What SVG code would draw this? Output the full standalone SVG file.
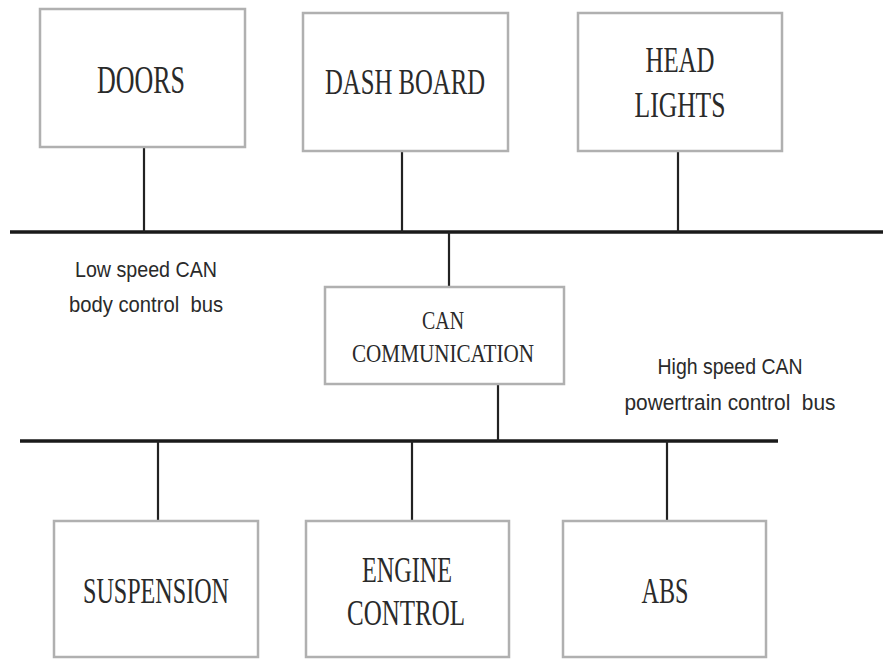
<svg xmlns="http://www.w3.org/2000/svg" width="883" height="659" viewBox="0 0 883 659">
<style>
.box{fill:#fff;stroke:#b0b0b0;stroke-width:2.5}
.t{font-family:"Liberation Serif","Times New Roman",serif;fill:#2a2a2a;text-anchor:middle}
.s{font-family:"Liberation Sans",Arial,sans-serif;fill:#2a2a2a;text-anchor:middle;font-size:22px;white-space:pre}
.bus{stroke:#1a1a1a;stroke-width:3.5;fill:none}
.drop{stroke:#222;stroke-width:2.2;fill:none}
</style>
<rect width="883" height="659" fill="#fff"/>
<g id="connectors">
<line class="bus" x1="10" y1="232" x2="883" y2="232"/>
<line class="bus" x1="20" y1="441" x2="778" y2="441"/>
<line class="drop" x1="144" y1="147" x2="144" y2="232"/>
<line class="drop" x1="402" y1="151" x2="402" y2="232"/>
<line class="drop" x1="678" y1="151" x2="678" y2="232"/>
<line class="drop" x1="449" y1="232" x2="449" y2="287"/>
<line class="drop" x1="498" y1="384" x2="498" y2="441"/>
<line class="drop" x1="158" y1="441" x2="158" y2="521"/>
<line class="drop" x1="412" y1="441" x2="412" y2="521"/>
<line class="drop" x1="667" y1="441" x2="667" y2="521"/>
</g>
<g id="doors">
<rect class="box" x="40" y="9" width="205" height="138"/>
<text class="t" x="141" y="93" font-size="40" textLength="88" lengthAdjust="spacingAndGlyphs">DOORS</text>
</g>
<g id="dashboard">
<rect class="box" x="303" y="13" width="205" height="138"/>
<text class="t" x="405" y="94" font-size="36" textLength="160" lengthAdjust="spacingAndGlyphs">DASH BOARD</text>
</g>
<g id="headlights">
<rect class="box" x="578" y="13" width="204" height="138"/>
<text class="t" x="680" y="72" font-size="36" textLength="69" lengthAdjust="spacingAndGlyphs">HEAD</text>
<text class="t" x="680" y="117" font-size="36" textLength="91" lengthAdjust="spacingAndGlyphs">LIGHTS</text>
</g>
<g id="can">
<rect class="box" x="325" y="287" width="239" height="97"/>
<text class="t" x="443" y="329" font-size="25" textLength="42" lengthAdjust="spacingAndGlyphs">CAN</text>
<text class="t" x="443" y="362" font-size="25" textLength="182" lengthAdjust="spacingAndGlyphs">COMMUNICATION</text>
</g>
<g id="suspension">
<rect class="box" x="54" y="521" width="204" height="136"/>
<text class="t" x="156" y="603" font-size="36" textLength="146" lengthAdjust="spacingAndGlyphs">SUSPENSION</text>
</g>
<g id="engine">
<rect class="box" x="306" y="521" width="203" height="136"/>
<text class="t" x="407" y="582" font-size="36" textLength="90" lengthAdjust="spacingAndGlyphs">ENGINE</text>
<text class="t" x="406" y="625" font-size="36" textLength="118" lengthAdjust="spacingAndGlyphs">CONTROL</text>
</g>
<g id="abs">
<rect class="box" x="563" y="521" width="203" height="136"/>
<text class="t" x="665" y="603" font-size="36" textLength="47" lengthAdjust="spacingAndGlyphs">ABS</text>
</g>
<g id="labels">
<text class="s" x="146" y="277" textLength="142" lengthAdjust="spacingAndGlyphs">Low speed CAN</text>
<text class="s" x="146" y="312" textLength="154" lengthAdjust="spacingAndGlyphs">body control  bus</text>
<text class="s" x="730" y="374" textLength="145" lengthAdjust="spacingAndGlyphs">High speed CAN</text>
<text class="s" x="730" y="410" textLength="211" lengthAdjust="spacingAndGlyphs">powertrain control  bus</text>
</g>
</svg>
